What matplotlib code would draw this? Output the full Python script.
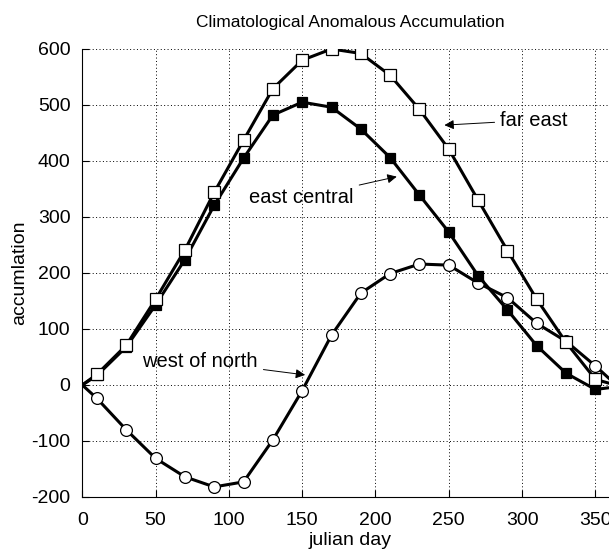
"""
Climatological anomalous accumulation by julian day for three regions.
"""
import matplotlib.pyplot as plt

plt.rcParams["font.family"] = ["Liberation Sans", "DejaVu Sans"]
plt.rcParams["axes.unicode_minus"] = False

# julian days; markers sit on every point except the first and last
DAYS = [0, 10, 30, 50, 70, 90, 110, 130, 150, 170, 190, 210, 230, 250,
        270, 290, 310, 330, 350, 365]

FAR_EAST = [0, 19, 71, 153, 241, 344, 437, 529, 580, 600, 592, 553, 492,
            421, 330, 240, 153, 76, 10, -1]
EAST_CENTRAL = [0, 17, 68, 143, 224, 321, 405, 482, 505, 496, 457, 406,
                339, 273, 195, 134, 70, 21, -8, -3]
WEST_OF_NORTH = [0, -24, -80, -131, -164, -182, -173, -98, -10, 89, 164,
                 199, 216, 214, 182, 156, 110, 78, 34, -2]

XTICKS = [0, 50, 100, 150, 200, 250, 300, 350]
YTICKS = [-200, -100, 0, 100, 200, 300, 400, 500, 600]


if __name__ == "__main__":
    fig = plt.figure(figsize=(6.09, 5.54), dpi=100)
    axes = fig.add_axes([0.1351, 0.1029, 0.8787, 0.8087])

    style = dict(color="black", linewidth=2.2, markevery=slice(1, -1),
                 markeredgecolor="black", markeredgewidth=0.9, zorder=5)
    axes.plot(DAYS, WEST_OF_NORTH, marker="o", markersize=8.5,
              markerfacecolor="white", **style)
    axes.plot(DAYS, EAST_CENTRAL, marker="s", markersize=6.5,
              markerfacecolor="black", **style)
    axes.plot(DAYS, FAR_EAST, marker="s", markersize=8,
              markerfacecolor="white", **style)

    arrow = dict(arrowstyle="-|>", color="black", lw=0.7,
                 mutation_scale=14, shrinkA=2, shrinkB=0)
    axes.annotate("far east", xy=(247, 464), xytext=(285, 473),
                  fontsize=14.5, va="center", ha="left", arrowprops=arrow)
    axes.annotate("east central", xy=(214.5, 372), xytext=(114, 334),
                  fontsize=14.5, va="center", ha="left", arrowprops=arrow)
    axes.annotate("west of north", xy=(152, 18), xytext=(41, 42),
                  fontsize=14.5, va="center", ha="left", arrowprops=arrow)

    axes.set_xlim(0, 365)
    axes.set_ylim(-200, 600)
    axes.set_xticks(XTICKS)
    axes.set_yticks(YTICKS)
    axes.tick_params(direction="in", length=5, width=0.8, labelsize=14,
                     top=False, right=False)
    axes.tick_params(axis="y", pad=8.5)
    axes.tick_params(axis="x", pad=11)
    axes.grid(True, color="black", linestyle=(0, (1, 2.5)), linewidth=0.7)
    axes.spines["top"].set_visible(False)
    axes.spines["right"].set_visible(False)
    axes.spines["left"].set_linewidth(0.8)
    axes.spines["bottom"].set_linewidth(0.8)

    axes.set_xlabel("julian day", fontsize=14, labelpad=2)
    axes.set_ylabel("accumlation", fontsize=14, labelpad=2)
    axes.set_title("Climatological Anomalous Accumulation", fontsize=12.5,
                   pad=16)

    plt.savefig("out.png", dpi=100)
